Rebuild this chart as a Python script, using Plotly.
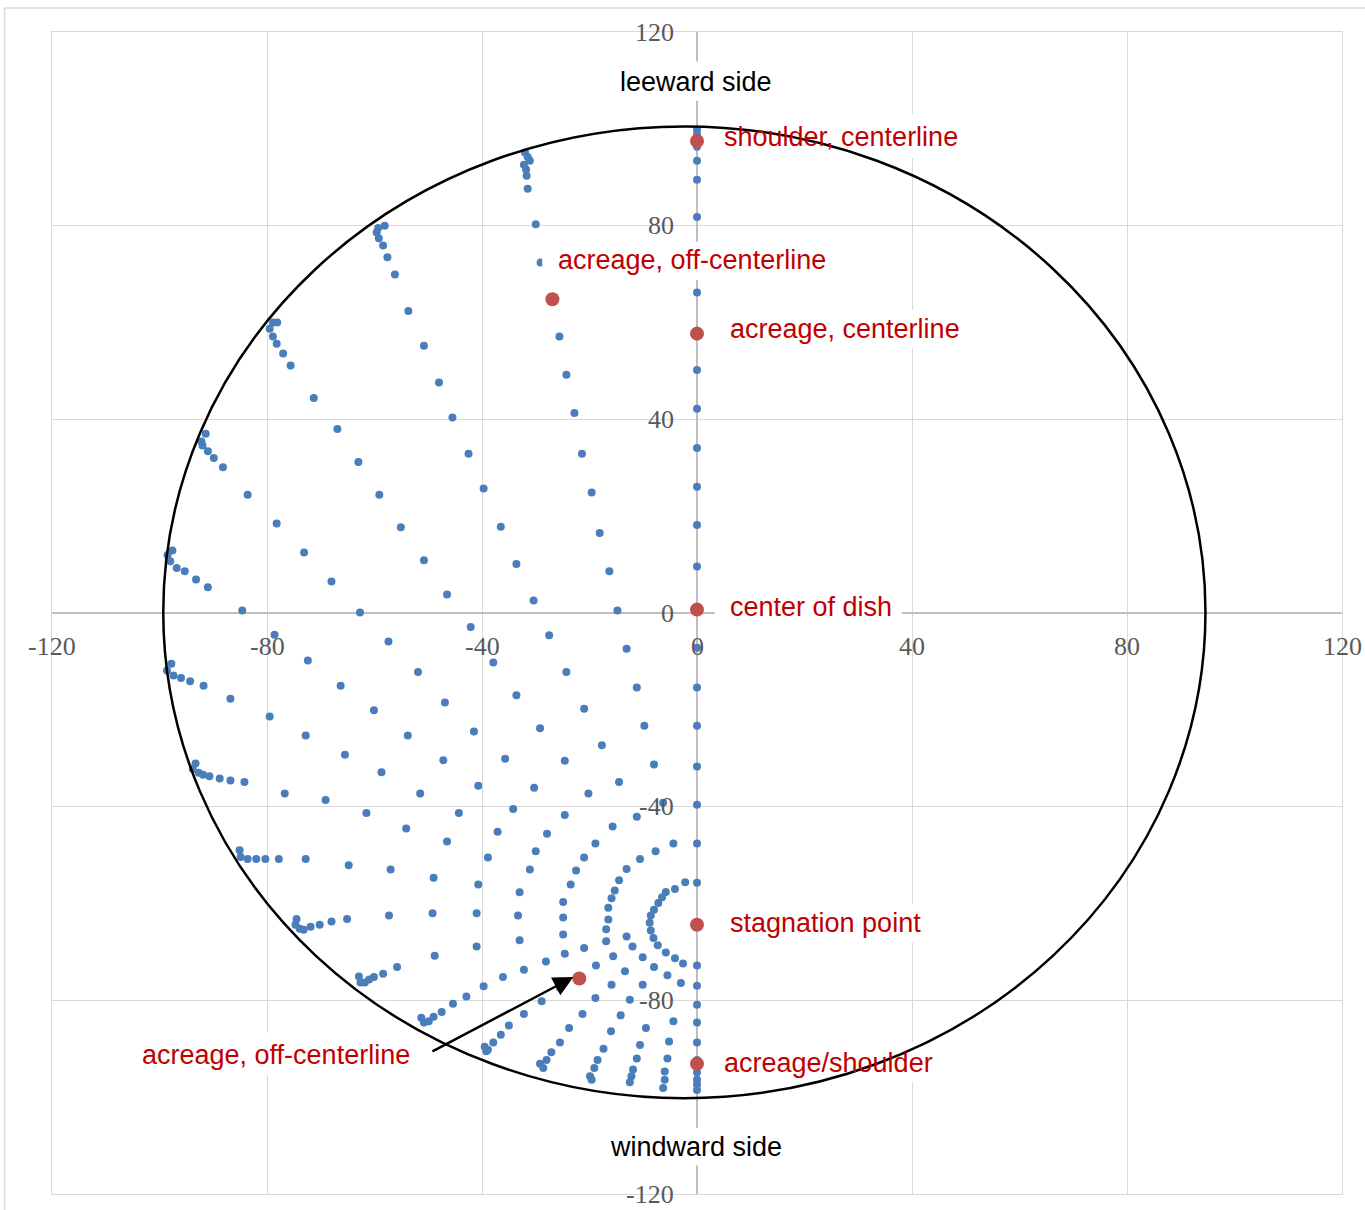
import plotly.graph_objects as go

# ---- surface streamline stations (x, y in mm) ----
center_y = [99.8, 98.8, 96.3, 93.4, 89.5, 81.8, 74.0, 66.2, 58.3, 50.2, 42.2, 34.1,
            26.1, 18.2, 9.6, 1.1, -7.2, -15.4, -23.3, -31.7, -39.6, -47.6, -55.7,
            -72.8, -77.0, -80.9, -84.6, -88.7, -92.3, -94.9, -96.4, -97.4, -98.5]
center_x = [0.0] * len(center_y)

stream_01_x = [-32.0, -31.5, -31.1, -32.2, -31.8, -31.7, -31.5, -30.0, -29.1, -27.3, -25.6, -24.3, -22.8,
               -21.4, -19.6, -18.1, -16.3, -14.8, -13.1, -11.2, -9.8, -8.0, -6.3, -4.4, -2.2]
stream_01_y = [95.1, 94.2, 93.4, 92.6, 91.6, 90.3, 87.6, 80.3, 72.4, 64.7, 57.1, 49.2, 41.3,
               32.9, 24.9, 16.5, 8.6, 0.5, -7.4, -15.4, -23.3, -31.3, -39.2, -47.6, -55.6]

stream_02_x = [-58.1, -59.3, -59.6, -59.2, -58.4, -57.6, -56.2, -53.7, -50.8, -48.0, -45.5, -42.5,
               -39.7, -36.5, -33.6, -30.4, -27.5, -24.3, -21.0, -17.7, -14.5, -11.2, -7.7, -4.1]
stream_02_y = [80.0, 79.5, 78.6, 77.4, 75.9, 73.5, 69.9, 62.4, 55.2, 47.6, 40.4, 32.9,
               25.7, 17.8, 10.1, 2.6, -4.6, -12.2, -19.8, -27.3, -34.9, -42.1, -49.2, -57.0]

stream_03_x = [-78.1, -78.9, -79.5, -78.9, -78.2, -77.0, -75.6, -71.3, -66.9, -63.0, -59.1, -55.1,
               -50.8, -46.5, -42.1, -37.9, -33.6, -29.2, -24.6, -20.2, -15.7, -10.6, -5.8]
stream_03_y = [60.0, 60.0, 58.7, 57.1, 55.6, 53.6, 51.1, 44.4, 38.0, 31.2, 24.4, 17.7,
               10.9, 3.8, -2.9, -10.2, -17.0, -23.8, -30.5, -37.3, -44.1, -50.8, -57.6]

stream_04_x = [-91.4, -92.2, -92.0, -91.0, -89.9, -88.2, -83.6, -78.2, -73.1, -68.0, -62.7,
               -57.4, -51.9, -46.9, -41.5, -35.7, -30.3, -24.6, -18.9, -13.1, -6.5]
stream_04_y = [37.0, 35.4, 34.6, 33.4, 32.0, 30.1, 24.4, 18.5, 12.5, 6.5, 0.1,
               -5.9, -12.2, -18.5, -24.5, -30.1, -36.1, -41.7, -47.6, -52.9, -58.7]

stream_05_x = [-97.6, -98.5, -98.0, -96.8, -95.3, -93.2, -91.0, -84.6, -78.6, -72.4,
               -66.3, -60.1, -53.8, -47.2, -40.7, -34.2, -27.9, -21.0, -14.5, -7.2]
stream_05_y = [12.9, 12.0, 10.7, 9.3, 8.6, 6.9, 5.3, 0.5, -4.5, -9.8,
               -15.0, -20.1, -25.3, -30.4, -35.7, -40.5, -45.6, -50.5, -55.2, -59.9]

stream_06_x = [-97.8, -98.6, -97.4, -96.0, -94.3, -91.8, -86.8, -79.5, -72.8,
               -65.5, -58.7, -51.5, -44.3, -37.1, -30.0, -22.5, -15.3, -8.0]
stream_06_y = [-10.5, -11.9, -12.9, -13.4, -14.1, -15.0, -17.7, -21.4, -25.3,
               -29.3, -32.9, -37.3, -41.3, -45.2, -49.2, -53.2, -57.3, -61.3]

stream_07_x = [-93.3, -93.8, -92.7, -91.9, -90.7, -88.8, -86.8, -84.2, -76.7,
               -69.1, -61.5, -54.1, -46.5, -38.9, -31.1, -23.5, -15.9, -8.6]
stream_07_y = [-31.1, -32.2, -33.0, -33.4, -33.7, -34.2, -34.6, -34.9, -37.3,
               -38.6, -41.3, -44.5, -47.2, -50.5, -53.0, -56.1, -58.9, -62.5]

stream_08_x = [-85.1, -84.9, -83.6, -82.0, -80.3, -77.8, -72.8, -64.8, -57.0, -49.0,
               -40.7, -33.0, -24.9, -16.5, -8.8]
stream_08_y = [-49.0, -50.4, -50.8, -50.8, -50.8, -50.8, -50.8, -52.1, -53.0, -54.7,
               -56.1, -57.7, -59.7, -60.9, -64.0]

stream_09_x = [-74.5, -74.7, -73.9, -73.2, -71.9, -70.2, -68.0, -65.1, -57.3, -49.2,
               -41.0, -33.3, -24.9, -16.5, -8.6]
stream_09_y = [-63.2, -64.4, -65.2, -65.4, -64.8, -64.4, -63.7, -63.2, -62.5, -62.0,
               -62.0, -62.5, -62.9, -63.3, -65.6]

stream_10_x = [-62.9, -62.6, -61.8, -61.0, -60.1, -58.4, -55.8, -48.8, -41.0, -33.0,
               -24.9, -16.9, -8.1]
stream_10_y = [-75.1, -76.3, -76.3, -75.7, -75.2, -74.5, -73.1, -70.8, -68.9, -67.6,
               -66.4, -65.3, -67.1]

stream_11_x = [-51.3, -50.8, -49.9, -49.0, -47.5, -45.4, -42.9, -39.7, -36.1, -32.2,
               -28.1, -24.6, -21.0, -16.9, -7.3]
stream_11_y = [-83.6, -84.6, -84.3, -83.4, -82.4, -80.7, -79.2, -77.1, -75.2, -73.7,
               -72.0, -70.4, -69.2, -67.8, -68.6]

stream_12_x = [-39.2, -39.5, -38.9, -37.9, -36.5, -35.0, -32.2, -28.9, -25.5, -22.2,
               -18.8, -15.6, -5.8]
stream_12_y = [-90.5, -89.6, -90.2, -88.7, -87.1, -85.2, -82.8, -80.2, -77.4, -75.1,
               -72.8, -70.9, -70.1]

stream_13_x = [-28.6, -29.2, -28.0, -27.1, -25.5, -23.8, -21.3, -18.9, -15.9, -13.4, -4.1]
stream_13_y = [-94.0, -93.1, -92.3, -90.7, -88.7, -85.7, -82.8, -79.5, -76.8, -74.0, -71.3]

stream_14_x = [-19.6, -19.9, -19.1, -18.5, -17.4, -16.0, -14.2, -12.5, -10.1, -8.0, -2.6]
stream_14_y = [-96.4, -95.7, -94.0, -92.3, -90.0, -86.4, -83.1, -79.9, -76.8, -73.1, -72.4]

stream_15_x = [-12.5, -12.2, -11.9, -11.2, -10.6, -9.5, -5.5, -13.1, -12.0, -10.1]
stream_15_y = [-96.9, -95.7, -94.3, -92.0, -89.2, -85.7, -74.8, -66.8, -68.9, -71.1]

stream_16_x = [-6.3, -6.0, -6.0, -5.5, -5.2, -4.4, -3.0]
stream_16_y = [-98.1, -96.4, -94.7, -92.0, -88.5, -84.3, -76.4]

# ---- named measurement locations ----
key_names = ["shoulder, centerline", "acreage, off-centerline", "acreage, centerline",
             "center of dish", "stagnation point", "acreage, off-centerline", "acreage/shoulder"]
key_x = [0.0, -26.9, 0.0, 0.0, 0.0, -21.9, 0.0]
key_y = [97.5, 64.8, 57.7, 0.7, -64.4, -75.5, -93.1]

# ---- axis ticks ----
tick_values = [-120, -80, -40, 0, 40, 80, 120]
tick_labels = ["-120", "-80", "-40", "0", "40", "80", "120"]

# ---- dish outline (ellipse extents) ----
rim_x = [-99.3, 94.6]
rim_y = [-100.2, 100.5]

streams = [
    (center_x, center_y),
    (stream_01_x, stream_01_y), (stream_02_x, stream_02_y), (stream_03_x, stream_03_y),
    (stream_04_x, stream_04_y), (stream_05_x, stream_05_y), (stream_06_x, stream_06_y),
    (stream_07_x, stream_07_y), (stream_08_x, stream_08_y), (stream_09_x, stream_09_y),
    (stream_10_x, stream_10_y), (stream_11_x, stream_11_y), (stream_12_x, stream_12_y),
    (stream_13_x, stream_13_y), (stream_14_x, stream_14_y), (stream_15_x, stream_15_y),
    (stream_16_x, stream_16_y),
]

blue = "#4A7EBB"
red_pt = "#C0504D"
red_txt = "#C00000"
grid = "#D9D9D9"
sans = "Liberation Sans, Arial, sans-serif"
serif = "Liberation Serif, Times New Roman, serif"

fig = go.Figure()
all_x, all_y = [], []
for sx, sy in streams:
    all_x += sx
    all_y += sy
fig.add_trace(go.Scatter(x=all_x, y=all_y, mode="markers",
                         marker=dict(size=8, color=blue), hoverinfo="skip", showlegend=False))
fig.add_trace(go.Scatter(x=key_x, y=key_y, mode="markers", text=key_names,
                         marker=dict(size=14, color=red_pt), showlegend=False))

shapes = []
# white label backings (drawn under the dish outline)
label_boxes = [
    (-16.9, 16.6, 105.8, 113.9),    # leeward side
    (2.2, 51.9, 94.0, 102.9),       # shoulder, centerline
    (-28.8, 27.5, 68.8, 76.7),      # acreage, off-centerline (upper)
    (3.3, 51.5, 54.8, 62.6),        # acreage, centerline
    (3.3, 38.1, -3.0, 4.8),         # center of dish
    (3.3, 44.1, -68.1, -60.2),      # stagnation point
    (2.2, 47.1, -97.0, -88.7),      # acreage/shoulder
    (-18.6, 18.2, -114.1, -106.3),  # windward side
    (-106.2, -50.6, -95.4, -86.7),  # acreage, off-centerline (lower)
]
for x0, x1, y0, y1 in label_boxes:
    shapes.append(dict(type="rect", xref="x", yref="y", x0=x0, x1=x1, y0=y0, y1=y1,
                       fillcolor="white", line=dict(width=0), layer="above"))
shapes.append(dict(type="circle", xref="x", yref="y", x0=rim_x[0], x1=rim_x[1],
                   y0=rim_y[0], y1=rim_y[1], line=dict(color="black", width=2.5),
                   layer="above"))
# chart frame (left and top edges fall inside the page)
shapes.append(dict(type="rect", xref="paper", yref="paper", x0=-0.0368, x1=1.03,
                   y0=-0.03, y1=1.0207, line=dict(color=grid, width=1.5),
                   fillcolor="rgba(0,0,0,0)", layer="below"))

ann = []
for v, t in zip(tick_values, tick_labels):
    ann.append(dict(x=v, y=0, xref="x", yref="y", text=t, showarrow=False,
                    xanchor="center", yanchor="middle", yshift=-33,
                    font=dict(family=serif, size=26, color="#595959")))
    ann.append(dict(x=0, y=v, xref="x", yref="y", text=t, showarrow=False,
                    xanchor="right", yanchor="middle", xshift=-21,
                    font=dict(family=serif, size=26, color="#595959")))

labels = [
    ("leeward side", -0.2, 109.7, "center", "black"),
    ("shoulder, centerline", 4.6, 98.3, "left", red_txt),
    ("acreage, off-centerline", -26.3, 73.0, "left", red_txt),
    ("acreage, centerline", 5.8, 58.7, "left", red_txt),
    ("center of dish", 5.8, 1.3, "left", red_txt),
    ("stagnation point", 5.8, -64.1, "left", red_txt),
    ("acreage/shoulder", 4.6, -92.9, "left", red_txt),
    ("acreage, off-centerline", -53.0, -91.2, "right", red_txt),
    ("windward side", -0.2, -110.2, "center", "black"),
]
for t, x, y, xa, c in labels:
    ann.append(dict(x=x, y=y, xref="x", yref="y", text=t, showarrow=False,
                    xanchor=xa, yanchor="middle",
                    font=dict(family=sans, size=27, color=c)))

# pointer to the lower off-centerline station
ann.append(dict(x=-23.0, y=-75.2, ax=-49.5, ay=-90.7, xref="x", yref="y",
                axref="x", ayref="y", text="", showarrow=True, arrowhead=2,
                arrowsize=1.6, arrowwidth=2.5, arrowcolor="black", standoff=0))

axis_common = dict(range=[-120, 120], tick0=0, dtick=40, showgrid=True, gridcolor=grid,
                   gridwidth=1, zeroline=True, zerolinecolor="#BFBFBF", zerolinewidth=2,
                   showticklabels=False, ticks="", showline=True, mirror=True,
                   linecolor=grid, linewidth=1, fixedrange=True)

fig.update_layout(
    width=1365, height=1210,
    margin=dict(l=52, r=23, t=32, b=16),
    paper_bgcolor="white", plot_bgcolor="white",
    xaxis=axis_common, yaxis=axis_common,
    shapes=shapes, annotations=ann,
)

fig.write_html("out.html")
